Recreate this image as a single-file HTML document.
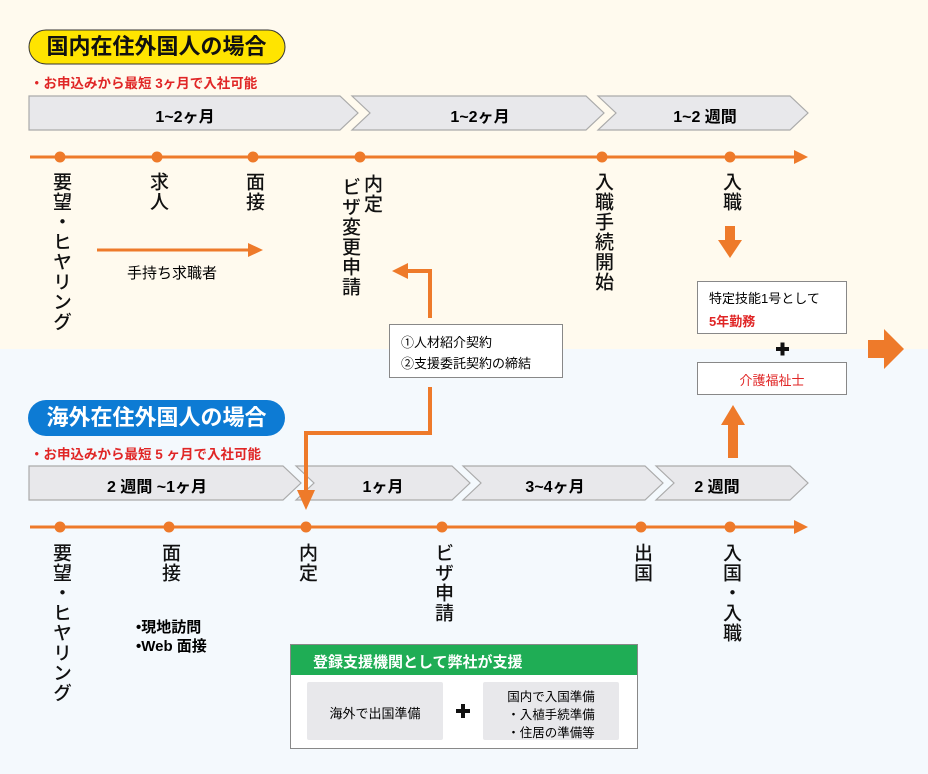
<!DOCTYPE html>
<html><head><meta charset="utf-8"><style>
body{margin:0;width:928px;height:774px;overflow:hidden;font-family:"Liberation Sans","Noto Sans CJK JP",sans-serif;}
.v{position:absolute;writing-mode:vertical-rl;font-size:19px;line-height:20px;color:#111;letter-spacing:1px;transform:translateX(-50%);font-weight:500;}
.t{position:absolute;white-space:nowrap;}
.c{font-size:16px;font-weight:bold;}
</style></head><body>
<div style="position:absolute;left:0;top:0;width:928px;height:349px;background:#fffaee"></div>
<div style="position:absolute;left:0;top:349px;width:928px;height:425px;background:#f4f9fd"></div>
<svg width="928" height="774" style="position:absolute;left:0;top:0" xmlns="http://www.w3.org/2000/svg">
<g fill="#e8e8eb" stroke="#aaaaaa" stroke-width="1.2">
<polygon points="29,96 340,96 358,113 340,130 29,130"/>
<polygon points="352,96 586,96 604,113 586,130 352,130 370,113"/>
<polygon points="598,96 790,96 808,113 790,130 598,130 616,113"/>
<polygon points="29,466 283,466 301,483 283,500 29,500"/>
<polygon points="296,466 452,466 470,483 452,500 296,500 314,483"/>
<polygon points="463,466 645,466 663,483 645,500 463,500 481,483"/>
<polygon points="656,466 790,466 808,483 790,500 656,500 674,483"/>
</g>
<g stroke="#ee7a2a" stroke-width="3" fill="#ee7a2a">
<line x1="30" y1="157" x2="796" y2="157"/>
<line x1="30" y1="527" x2="796" y2="527"/>
<line x1="97" y1="250" x2="250" y2="250"/>
</g>
<g fill="#ee7a2a">
<polygon points="794,150 808,157 794,164"/>
<polygon points="794,520 808,527 794,534"/>
<polygon points="248,243 263,250 248,257"/>
<circle cx="60" cy="157" r="5.5"/><circle cx="157" cy="157" r="5.5"/><circle cx="253" cy="157" r="5.5"/><circle cx="360" cy="157" r="5.5"/><circle cx="602" cy="157" r="5.5"/><circle cx="730" cy="157" r="5.5"/>
<circle cx="60" cy="527" r="5.5"/><circle cx="169" cy="527" r="5.5"/><circle cx="306" cy="527" r="5.5"/><circle cx="442" cy="527" r="5.5"/><circle cx="641" cy="527" r="5.5"/><circle cx="730" cy="527" r="5.5"/>
<rect x="725" y="226" width="10" height="14"/><polygon points="718,240 742,240 730,258"/>
<rect x="728" y="424" width="10" height="34"/><polygon points="721,425 745,425 733,405"/>
<polygon points="868,340 884,340 884,329 904,349 884,369 884,358 868,358"/>
<polygon points="392,271 408,263 408,279"/>
<polygon points="297,490 315,490 306,510"/>
</g>
<g fill="none" stroke="#ee7a2a" stroke-width="4">
<polyline points="430,318 430,271 404,271"/>
<polyline points="430,387 430,433 306,433 306,494"/>
</g>
<rect x="29" y="30" width="256" height="34" rx="17" fill="#ffe400" stroke="#333" stroke-width="1"/>
<rect x="28" y="400" width="257" height="36" rx="18" fill="#0d7bd4"/>
<rect x="389.5" y="324.5" width="173" height="53" fill="#fff" stroke="#888"/>
<rect x="697.5" y="281.5" width="149" height="52" fill="#fff" stroke="#888"/>
<rect x="697.5" y="362.5" width="149" height="32" fill="#fff" stroke="#888"/>
<rect x="290.5" y="644.5" width="347" height="104" fill="#fff" stroke="#888"/>
<rect x="291" y="645" width="346" height="30" fill="#1fad55"/>
<rect x="307" y="682" width="136" height="58" rx="2" fill="#e8e8eb"/>
<rect x="483" y="682" width="136" height="58" rx="2" fill="#e8e8eb"/>
<g fill="#111">
<rect x="776" y="347" width="13" height="4"/><rect x="780.5" y="342.5" width="4" height="13"/>
<rect x="456" y="709" width="14" height="4"/><rect x="461" y="704" width="4" height="14"/>
</g>
</svg>

<div class="t" style="left:28px;top:31px;width:257px;text-align:center;font-size:22px;font-weight:bold;line-height:32px;color:#111">国内在住外国人の場合</div>
<div class="t" style="left:30px;top:72px;font-size:13.5px;color:#e02626;font-weight:bold">・お申込みから最短 3ヶ月で入社可能</div>
<div class="t" style="left:28px;top:401px;width:257px;text-align:center;font-size:22px;font-weight:bold;line-height:34px;color:#fff">海外在住外国人の場合</div>
<div class="t" style="left:30px;top:443px;font-size:13.5px;color:#e02626;font-weight:bold">・お申込みから最短 5 ヶ月で入社可能</div>

<div class="t c" style="left:135px;top:103px;width:100px;text-align:center">1~2ヶ月</div>
<div class="t c" style="left:430px;top:103px;width:100px;text-align:center">1~2ヶ月</div>
<div class="t c" style="left:655px;top:103px;width:100px;text-align:center">1~2 週間</div>
<div class="t c" style="left:87px;top:473px;width:140px;text-align:center">2 週間 ~1ヶ月</div>
<div class="t c" style="left:333px;top:473px;width:100px;text-align:center">1ヶ月</div>
<div class="t c" style="left:505px;top:473px;width:100px;text-align:center">3~4ヶ月</div>
<div class="t c" style="left:667px;top:473px;width:100px;text-align:center">2 週間</div>

<div class="v" style="left:60px;top:172px">要望・ヒヤリング</div>
<div class="v" style="left:157px;top:172px">求人</div>
<div class="v" style="left:253px;top:172px">面接</div>
<div class="v" style="left:371px;top:174px">内定</div>
<div class="v" style="left:349px;top:177px">ビザ変更申請</div>
<div class="v" style="left:602px;top:172px">入職手続開始</div>
<div class="v" style="left:730px;top:172px">入職</div>
<div class="t" style="left:127px;top:262px;font-size:15px">手持ち求職者</div>

<div class="v" style="left:60px;top:543px">要望・ヒヤリング</div>
<div class="v" style="left:169px;top:543px">面接</div>
<div class="v" style="left:306px;top:543px">内定</div>
<div class="v" style="left:442px;top:543px">ビザ申請</div>
<div class="v" style="left:641px;top:543px">出国</div>
<div class="v" style="left:730px;top:543px">入国・入職</div>
<div class="t" style="left:136px;top:618px;font-size:15px;line-height:19px;font-weight:bold">•現地訪問<br>•Web 面接</div>

<div class="t" style="left:401px;top:332px;font-size:13px;line-height:21px">①人材紹介契約<br>②支援委託契約の締結</div>
<div class="t" style="left:709px;top:288px;font-size:13px">特定技能1号として</div>
<div class="t" style="left:709px;top:311px;font-size:13px;color:#e02626;font-weight:bold">5年勤務</div>
<div class="t" style="left:697px;top:370px;width:150px;text-align:center;font-size:13px;color:#e02626">介護福祉士</div>

<div class="t" style="left:313px;top:651px;font-size:15px;font-weight:bold;color:#fff">登録支援機関として弊社が支援</div>
<div class="t" style="left:307px;top:703px;width:136px;text-align:center;font-size:13px">海外で出国準備</div>
<div class="t" style="left:483px;top:688px;width:136px;text-align:center;font-size:12.5px;line-height:18px">国内で入国準備<br>・入植手続準備<br>・住居の準備等</div>
</body></html>
